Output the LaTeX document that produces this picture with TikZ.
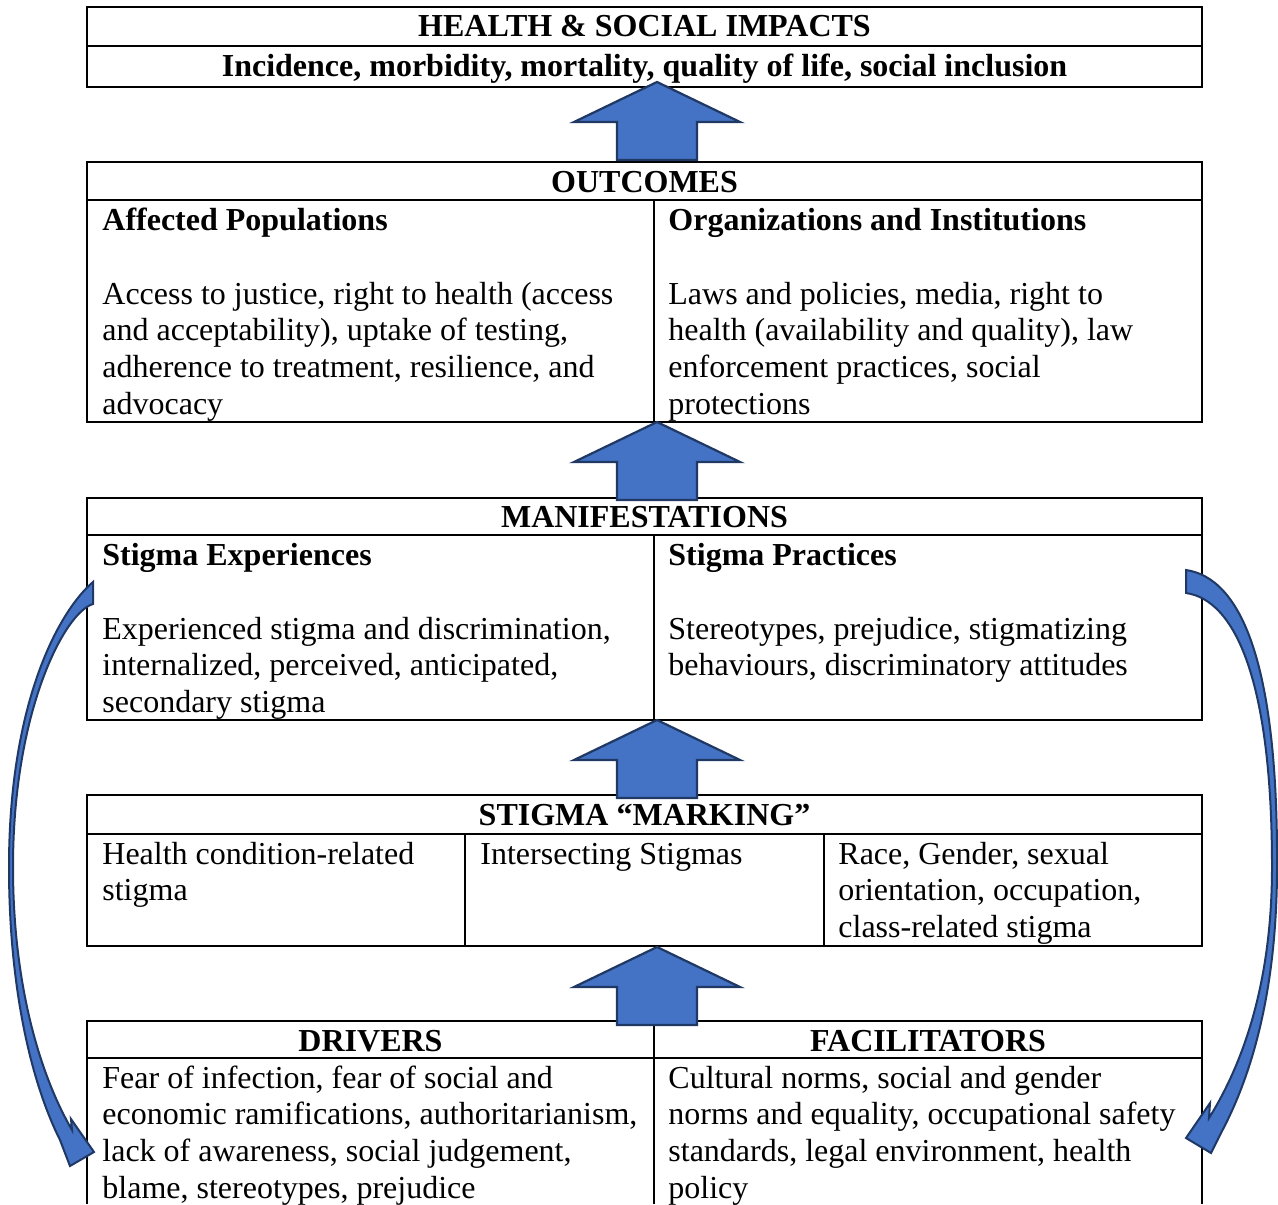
\documentclass[tikz,border=0pt]{standalone}
\usepackage{fontspec}
\setmainfont{Liberation Serif}
\definecolor{arrowblue}{HTML}{4472C4}
\definecolor{arrowedge}{HTML}{203864}
\begin{document}
\begin{tikzpicture}[x=0.5pt,y=-0.5pt,
  rule/.style={line width=1pt,draw=black},
  bodyfont/.style={font=\fontsize{16}{18.4}\selectfont},
  txt/.style={bodyfont,inner sep=0pt,anchor=base west,align=flush left,text width=290pt},
  hd/.style={txt,font=\fontsize{16}{18.4}\selectfont\bfseries},
  ttl/.style={inner sep=0pt,anchor=base,font=\fontsize{16}{18.4}\selectfont\bfseries},
  blockfill/.style={fill=arrowblue,draw=arrowedge,line width=1.1pt,line join=miter},
  upblock/.pic={\path[blockfill] (0,0) -- (83,40) -- (40,40) -- (40,78) -- (-40,78) -- (-40,40) -- (-83,40) -- cycle;}
]
\useasboundingbox (0,0) rectangle (1278,1204);

% ---- table frames ----
% health & social impacts
\draw[rule] (87,7) rectangle (1202,87);
\draw[rule] (87,46) -- (1202,46);
% outcomes
\draw[rule] (87,162) rectangle (1202,422);
\draw[rule] (87,200) -- (1202,200);
\draw[rule] (654,200) -- (654,422);
% manifestations
\draw[rule] (87,498) rectangle (1202,720);
\draw[rule] (87,535) -- (1202,535);
\draw[rule] (654,535) -- (654,720);
% stigma marking
\draw[rule] (87,795) rectangle (1202,946);
\draw[rule] (87,834) -- (1202,834);
\draw[rule] (465,834) -- (465,946);
\draw[rule] (824,834) -- (824,946);
% drivers / facilitators (runs off the page)
\draw[rule] (87,1204) -- (87,1021) -- (1202,1021) -- (1202,1204);
\draw[rule] (87,1058) -- (1202,1058);
\draw[rule] (654,1021) -- (654,1204);

% ---- texts ----
\node[ttl] (impact) at (644.5,37) {HEALTH \& SOCIAL IMPACTS};
\node[ttl] (impactsub) at (644.5,76) {Incidence, morbidity, mortality, quality of life, social inclusion};

\node[ttl] (outcomes) at (644.5,192) {OUTCOMES};
\node[hd] (affected) at (102,230) {Affected Populations};
\node[txt] (affectedbody) at (102,304) {Access to justice, right to health (access\\
and acceptability), uptake of testing,\\
adherence to treatment, resilience, and\\
advocacy};
\node[hd] (org) at (668,230) {Organizations and Institutions};
\node[txt] (orgbody) at (668,304) {Laws and policies, media, right to\\
health (availability and quality), law\\
enforcement practices, social\\
protections};

\node[ttl] (manif) at (644.5,527) {MANIFESTATIONS};
\node[hd] (exper) at (102,565) {Stigma Experiences};
\node[txt] (experbody) at (102,639) {Experienced stigma and discrimination,\\
internalized, perceived, anticipated,\\
secondary stigma};
\node[hd] (pract) at (668,565) {Stigma Practices};
\node[txt] (practbody) at (668,639) {Stereotypes, prejudice, stigmatizing\\
behaviours, discriminatory attitudes};

\node[ttl] (marking) at (644.5,825) {STIGMA “MARKING”};
\node[txt] (healthcond) at (102,864) {Health condition-related\\
stigma};
\node[txt] (intersect) at (480,864) {Intersecting Stigmas};
\node[txt] (race) at (838,864) {Race, Gender, sexual\\
orientation, occupation,\\
class-related stigma};

\node[ttl] (drivers) at (370.5,1051) {DRIVERS};
\node[txt] (driversbody) at (102,1088) {Fear of infection, fear of social and\\
economic ramifications, authoritarianism,\\
lack of awareness, social judgement,\\
blame, stereotypes, prejudice};
\node[ttl] (facil) at (928,1051) {FACILITATORS};
\node[txt] (facilbody) at (668,1088) {Cultural norms, social and gender\\
norms and equality, occupational safety\\
standards, legal environment, health\\
policy};

% ---- block arrows between the layers ----
\pic at (657,82) {upblock};
\pic at (657,422) {upblock};
\pic at (657,720) {upblock};
\pic at (657,947) {upblock};

% ---- curved feedback arrows ----
\path[blockfill,line width=1pt]
  (93,582) .. controls (60,610) and (9,700) .. (9,867)
  .. controls (9,985) and (30,1080) .. (60,1140)
  -- (70,1166) -- (94,1152) -- (71,1119) -- (72,1130)
  .. controls (40,1075) and (13,985) .. (13,867)
  .. controls (13,710) and (65,612) .. (93,604) -- cycle;
\path[blockfill,line width=1pt]
  (1186,570) .. controls (1240,578) and (1278,660) .. (1277,867)
  .. controls (1277,990) and (1252,1075) .. (1221,1133)
  -- (1211,1153) -- (1186,1138) -- (1210,1103) -- (1209,1118)
  .. controls (1242,1065) and (1272,985) .. (1272,867)
  .. controls (1272,680) and (1235,600) .. (1186,593) -- cycle;
\end{tikzpicture}
\end{document}
